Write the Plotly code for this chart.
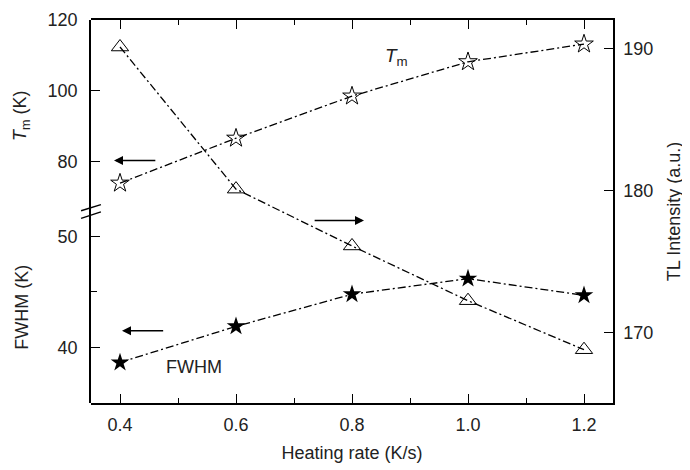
import plotly.graph_objects as go

heating_rate = [0.4, 0.6, 0.8, 1.0, 1.2]
tm_values = [73.9, 86.6, 98.5, 108.2, 113.2]
fwhm_values = [38.65, 41.9, 44.8, 46.2, 44.7]
tl_values = [190.1, 180.1, 176.1, 172.25, 168.8]

x_ticks = [0.4, 0.6, 0.8, 1.0, 1.2]
tm_ticks = [80, 100, 120]
fwhm_ticks = [40, 50]
fwhm_minor = [45]
tl_ticks = [170, 180, 190]

FONT = "Liberation Sans, Arial, sans-serif"
dash = "8px,3px,2px,3px"

fig = go.Figure()
fig.add_trace(go.Scatter(
    x=heating_rate, y=tl_values, xaxis="x", yaxis="y", mode="lines+markers",
    line=dict(color="black", width=1.3, dash=dash),
    marker=dict(symbol="triangle-up-open", size=15, color="black", line=dict(width=1, color="black")),
    showlegend=False))
fig.add_trace(go.Scatter(
    x=heating_rate, y=tm_values, xaxis="x", yaxis="y3", mode="lines+markers",
    line=dict(color="black", width=1.3, dash=dash),
    marker=dict(symbol="star-open", size=14, color="black", line=dict(width=1, color="black")),
    showlegend=False))
fig.add_trace(go.Scatter(
    x=heating_rate, y=fwhm_values, xaxis="x", yaxis="y2", mode="lines+markers",
    line=dict(color="black", width=1.3, dash=dash),
    marker=dict(symbol="star", size=14, color="black", line=dict(width=0)),
    showlegend=False))

axis_common = dict(showline=True, linecolor="black", linewidth=1.5, ticks="inside",
                   tickcolor="black", tickwidth=1.2, showgrid=False, zeroline=False,
                   automargin=False,
                   tickfont=dict(family=FONT, size=18, color="#222"))

fig.update_layout(
    width=682, height=462,
    margin=dict(l=83, r=77, t=12, b=67),
    paper_bgcolor="white", plot_bgcolor="rgba(0,0,0,0)",
    font=dict(family=FONT, size=18, color="#222"),
    xaxis=dict(**axis_common, range=[0.35, 1.25], tickvals=x_ticks,
               ticktext=["0.4", "0.6", "0.8", "1.0", "1.2"], ticklen=9, mirror="ticks",
               ticklabelstandoff=5,
               minor=dict(tickvals=[0.5, 0.7, 0.9, 1.1], ticks="inside", ticklen=5, tickcolor="black"),
               anchor="y",
               title=dict(text="Heating rate (K/s)", standoff=12, font=dict(family=FONT, size=18))),
    yaxis=dict(**axis_common, domain=[0, 1], side="right", anchor="x", range=[165.05, 192.0],
               tickvals=tl_ticks, ticklen=9, ticklabelstandoff=5,
               title=dict(text="TL Intensity (a.u.)", standoff=15, font=dict(family=FONT, size=18))),
    yaxis2=dict(**axis_common, domain=[0, 0.5], side="left", anchor="x", range=[35.0, 52.25],
                tickvals=fwhm_ticks, ticklen=9, ticklabelstandoff=8,
                minor=dict(tickvals=fwhm_minor, ticks="inside", ticklen=6, tickcolor="black"),
                title=dict(text="FWHM (K)", standoff=24, font=dict(family=FONT, size=18))),
    yaxis3=dict(**axis_common, domain=[0.5, 1], side="left", anchor="x", range=[65.9, 120.0],
                tickvals=tm_ticks, ticklen=9, ticklabelstandoff=8,
                title=dict(text="<i>T</i><sub>m</sub> (K)", standoff=16, font=dict(family=FONT, size=18))),
)

# axis break marks
for y0, y1 in [(0.502, 0.518), (0.482, 0.499)]:
    fig.add_shape(type="line", xref="paper", yref="paper", x0=-0.019, y0=y0, x1=0.019, y1=y1,
                  line=dict(color="black", width=1.5))

# arrows
arrows = [
    dict(x=0.3897, y=80.3, ax=0.4635, ay=80.3, yref="y3", ayref="y3"),
    dict(x=0.8207, y=177.9, ax=0.733, ay=177.9, yref="y", ayref="y"),
    dict(x=0.4034, y=41.5, ax=0.477, ay=41.5, yref="y2", ayref="y2"),
]
for a in arrows:
    fig.add_annotation(x=a["x"], y=a["y"], ax=a["ax"], ay=a["ay"], xref="x", axref="x",
                       yref=a["yref"], ayref=a["ayref"], showarrow=True, arrowhead=2,
                       arrowsize=1.2, arrowwidth=1.5, arrowcolor="black", text="")

fig.add_annotation(x=0.876, y=109.6, xref="x", yref="y3", text="<i>T</i><sub>m</sub>",
                   showarrow=False, font=dict(family=FONT, size=19, color="#222"))
fig.add_annotation(x=0.527, y=38.26, xref="x", yref="y2", text="FWHM",
                   showarrow=False, font=dict(family=FONT, size=18, color="#222"))

fig.write_html("out.html")
